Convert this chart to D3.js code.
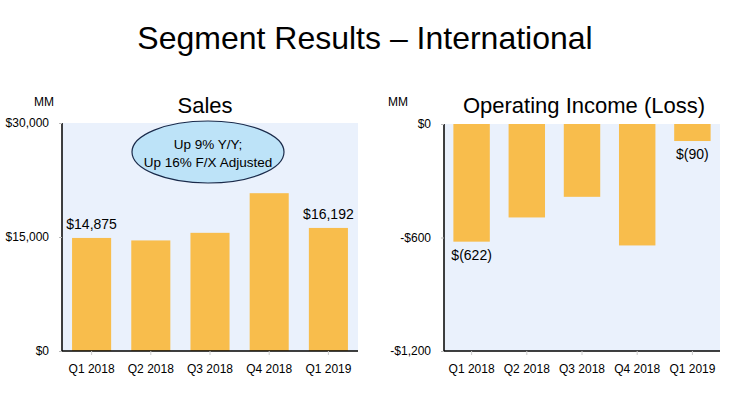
<!DOCTYPE html>
<html>
<head>
<meta charset="utf-8">
<script src="https://cdn.jsdelivr.net/npm/d3@7"></script>
<style>
  body { margin: 0; background: #fff; }
  svg text { font-family: "Liberation Sans", Arial, sans-serif; fill: #000; }
</style>
</head>
<body>
<div id="chartDiv"></div>
<script>

// Data
var quarters      = ["Q1 2018", "Q2 2018", "Q3 2018", "Q4 2018", "Q1 2019"];
var salesValues   = [14875, 14548, 15549, 20764, 16192];
var incomeValues  = [-622, -494, -385, -642, -90];
var salesTicks    = [0, 15000, 30000];
var salesTickText = ["$0", "$15,000", "$30,000"];
var incomeTicks   = [0, -600, -1200];
var incomeTickText = ["$0", "-$600", "-$1,200"];
var salesLabels   = [{i: 0, text: "$14,875"}, {i: 4, text: "$16,192"}];
var incomeLabels  = [{i: 0, text: "$(622)"}, {i: 4, text: "$(90)"}];
var calloutLines  = ["Up 9% Y/Y;", "Up 16% F/X Adjusted"];

var WIDTH  = 730;
var HEIGHT = 398;
var BAR_COLOR = "#f8bd4c";
var PLOT_BG   = "#eaf1fc";

var svg = d3.select("#chartDiv").append("svg")
	.attr("width", WIDTH)
	.attr("height", HEIGHT);

svg.append("text")
	.attr("x", 365)
	.attr("y", 49)
	.attr("text-anchor", "middle")
	.style("font-size", "32px")
	.text("Segment Results \u2013 International");

/*---------------------------
| drawPanel
-----------------*/

var drawPanel = function(opts) {
	var x = d3.scaleBand()
		.domain(quarters)
		.range([opts.left, opts.right])
		.paddingInner(opts.pad)
		.paddingOuter(opts.pad / 2);

	var y = d3.scaleLinear()
		.domain(opts.domain)
		.range([opts.bottom, opts.top]);

	var g = svg.append("g");

	g.append("rect")
		.attr("x", opts.left)
		.attr("y", opts.top)
		.attr("width", opts.right - opts.left)
		.attr("height", opts.bottom - opts.top)
		.attr("fill", PLOT_BG);

	g.selectAll("rect.bar")
		.data(opts.values)
		.enter().append("rect")
		  .attr("class", "bar")
		  .attr("x", function(d, i) { return x(quarters[i]); })
		  .attr("width", x.bandwidth())
		  .attr("y", function(d) { return Math.min(y(d), y(0)); })
		  .attr("height", function(d) { return Math.abs(y(d) - y(0)); })
		  .attr("fill", BAR_COLOR);

	// y axis
	var yAxis = d3.axisLeft(y)
		.tickValues(opts.ticks)
		.tickFormat(function(d, i) { return opts.tickText[i]; })
		.tickSize(3)
		.tickPadding(10);
	var ya = g.append("g")
		.attr("transform", "translate(" + opts.left + ",0)")
		.call(yAxis);
	ya.select(".domain").attr("stroke", "#000").attr("stroke-width", 1.5)
		.attr("d", "M0," + opts.top + "V" + opts.bottom);
	ya.selectAll(".tick line").attr("stroke", "#bbb");
	ya.selectAll(".tick text")
		.style("font-size", "12px")
		.style("font-family", "'Liberation Sans', Arial, sans-serif")
		.attr("fill", "#000");

	// x axis
	var xAxis = d3.axisBottom(x).tickSize(4).tickPadding(9);
	var xa = g.append("g")
		.attr("transform", "translate(0," + opts.bottom + ")")
		.call(xAxis);
	xa.select(".domain").attr("stroke", "#000").attr("stroke-width", 1.5)
		.attr("d", "M" + opts.left + ",0H" + opts.right);
	xa.selectAll(".tick line").attr("stroke", "#ccc");
	xa.selectAll(".tick text")
		.style("font-size", "12px")
		.style("font-family", "'Liberation Sans', Arial, sans-serif")
		.attr("fill", "#000");

	// value labels
	g.selectAll("text.val")
		.data(opts.labels)
		.enter().append("text")
		  .attr("class", "val")
		  .attr("x", function(d) { return x(quarters[d.i]) + x.bandwidth() / 2; })
		  .attr("y", function(d) {
			  var v = opts.values[d.i];
			  return v >= 0 ? y(v) - 9 : y(v) + 18;
		  })
		  .attr("text-anchor", "middle")
		  .style("font-size", "14px")
		  .text(function(d) { return d.text; });

	// titles
	g.append("text")
		.attr("x", opts.mmX)
		.attr("y", 106)
		.style("font-size", "12px")
		.text("MM");
	g.append("text")
		.attr("x", opts.titleX)
		.attr("y", 113)
		.attr("text-anchor", "middle")
		.style("font-size", "22px")
		.text(opts.title);

	return { x: x, y: y, g: g };
};

var sales = drawPanel({
	left: 62, right: 358, top: 123, bottom: 351,
	pad: 0.34, domain: [0, 30000],
	values: salesValues, ticks: salesTicks, tickText: salesTickText,
	labels: salesLabels, title: "Sales", titleX: 205, mmX: 34
});

drawPanel({
	left: 444, right: 720, top: 124, bottom: 351,
	pad: 0.34, domain: [-1200, 0],
	values: incomeValues, ticks: incomeTicks, tickText: incomeTickText,
	labels: incomeLabels, title: "Operating Income (Loss)", titleX: 584, mmX: 388
});

// callout ellipse on the Sales panel
var callout = sales.g.append("g").attr("transform", "translate(208,152)");
callout.append("ellipse")
	.attr("rx", 76)
	.attr("ry", 31)
	.attr("fill", "#bde3f8")
	.attr("stroke", "#1a2a4a")
	.attr("stroke-width", 1.2);
callout.selectAll("text")
	.data(calloutLines)
	.enter().append("text")
	  .attr("x", 0)
	  .attr("y", function(d, i) { return -3 + i * 18; })
	  .attr("text-anchor", "middle")
	  .style("font-size", "13.5px")
	  .text(function(d) { return d; });

</script>
</body>
</html>
